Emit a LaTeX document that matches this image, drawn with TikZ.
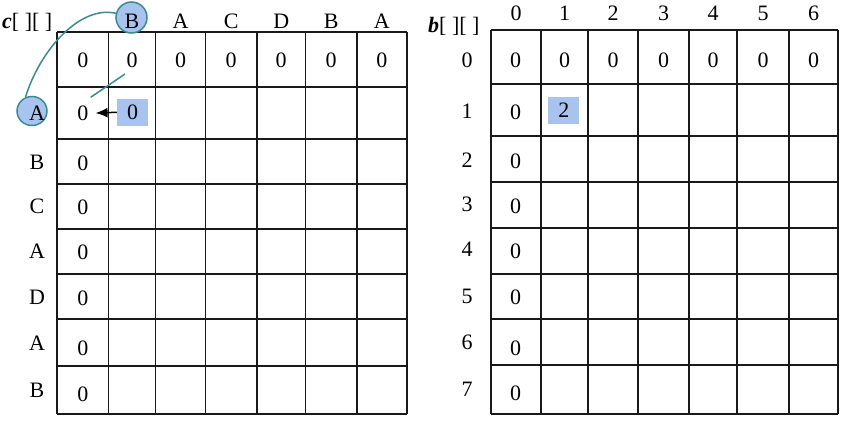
\documentclass[tikz,border=0pt]{standalone}
\usepackage{fontspec}
\setmainfont{Liberation Serif}
\usetikzlibrary{arrows.meta,shapes.geometric}
\definecolor{hl}{HTML}{A8C4EE}
\definecolor{tealc}{HTML}{3A8A92}
\begin{document}
\begin{tikzpicture}[x=1pt,y=-1pt,
  txt/.style={inner sep=0pt, font=\fontsize{22}{25}\selectfont},
  gridline/.style={line width=1.7pt, black!90},
  hlbox/.style={txt, fill=hl, minimum width=31pt, minimum height=27pt},
  blob/.style={ellipse, draw=tealc, line width=1.5pt, fill=hl, inner sep=0pt},
  tealline/.style={draw=tealc, line width=1.5pt},
  arr/.style={line width=1.5pt, -{Latex[length=12pt,width=10pt]}}]
\useasboundingbox (0,0) rectangle (857,433);

% ---------- left grid ----------
\foreach \x in {57.3,108.5,155.5,205.5,257,305.5,357,406.7}
  \draw[gridline] (\x,32.3) -- (\x,413.7);
\foreach \y in {32.3,87.3,139,184,229,274.3,319.3,365.7,413.7}
  \draw[gridline] (57.3,\y) -- (406.7,\y);

% ---------- right grid ----------
\foreach \x in {490.7,541.3,588,638,689.3,737,789,838}
  \draw[gridline] (\x,30) -- (\x,413.7);
\foreach \y in {30,84,136,182,227.7,273.7,319,364.7,413.7}
  \draw[gridline] (490.7,\y) -- (838,\y);

% ---------- blobs ----------
\node[blob, minimum width=31pt, minimum height=31pt] (bB) at (131.5,17.5) {};
\node[blob, minimum width=30pt, minimum height=29pt] (bA) at (32,111) {};

% ---------- left labels ----------
\node[txt, anchor=base west] (cl) at (2,29) {\textbf{\textit{c}}[ ][ ]};
\foreach \t/\x [count=\i] in {B/132,A/180.5,C/231.2,D/281.2,B/331.2,A/381.8}
  \node[txt, anchor=base] (LH\i) at (\x,29) {\t};
\foreach \t/\y [count=\i] in {A/113,B/162,C/206.5,A/251.5,D/297,A/343,B/390}
  \node[txt] (LR\i) at (37,\y) {\t};

% row 0 zeros
\foreach \x [count=\i from 0] in {82.9,132,180.5,231.2,281.2,331.2,381.8}
  \node[txt] (L0\i) at (\x,60.5) {0};
% column 0 zeros
\foreach \y [count=\i] in {113.3,163.3,207.3,252.7,298.3,348,394}
  \node[txt] (L\i0) at (82.9,\y) {0};
\node[hlbox] (Lhl) at (132.5,112.3) {0};

% ---------- right labels ----------
\node[txt, anchor=base west] (bl) at (428,33) {\textbf{\textit{b}}[ ][ ]};
\foreach \x [count=\i from 0] in {516,564.6,613,663.6,713.1,763,813.5}
  \node[txt] (RH\i) at (\x,13) {\i};
\foreach \y [count=\i from 0] in {60.5,111,160.5,204,249.5,296.5,342.5,389}
  \node[txt] (RR\i) at (467,\y) {\i};

\foreach \x [count=\i from 0] in {515.5,564.6,613,663.6,713.1,763,813.5}
  \node[txt] (R0\i) at (\x,60.5) {0};
\foreach \y [count=\i] in {112,161.7,206,251.7,297.7,348,393.3}
  \node[txt] (R\i0) at (515.5,\y) {0};
\node[hlbox] (Rhl) at (563.8,110.3) {2};

% ---------- connectors ----------
\draw[tealline] (bA.115) .. controls (40,50) and (80,5) .. (bB.165);
\coordinate (t1) at (125,74);
\coordinate (t2) at (90.7,97.3);
\draw[tealline] (t1) -- (t2);
\draw[arr, shorten >=7pt] (Lhl.west) -- (L10.east);
\end{tikzpicture}
\end{document}
